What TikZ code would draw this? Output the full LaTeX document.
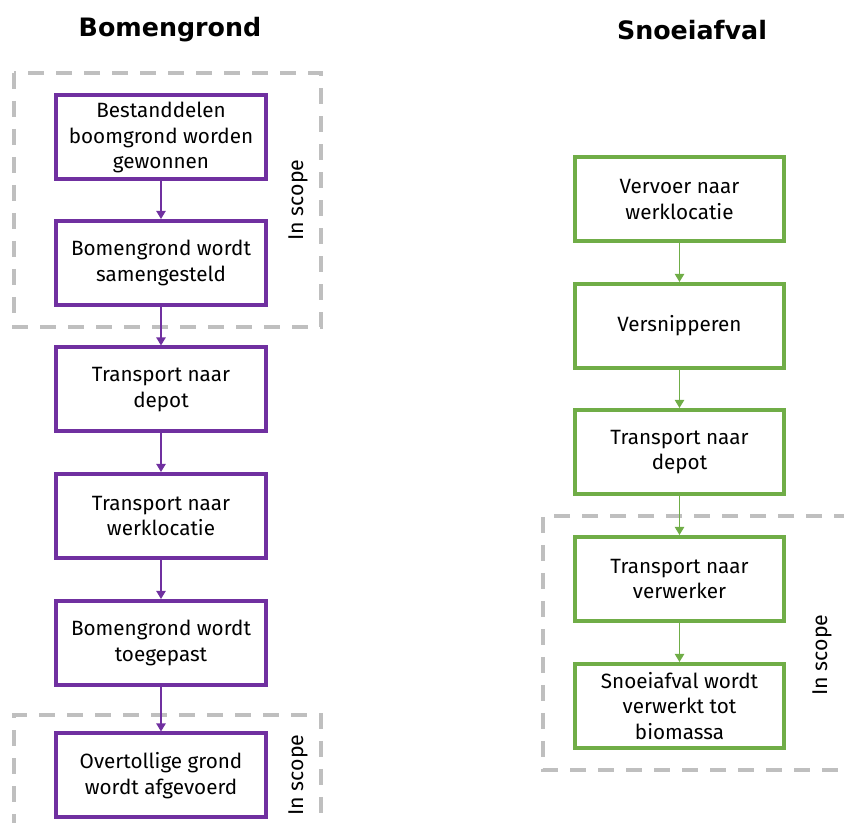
\documentclass[tikz,border=0pt]{standalone}
\usepackage{fontspec}
\setmainfont{Fira Sans}
\newfontfamily\titelfont{DejaVu Sans}
\usetikzlibrary{arrows.meta}
\definecolor{paars}{HTML}{7030A0}
\definecolor{groen}{HTML}{70AD47}
\definecolor{grijs}{HTML}{BFBFBF}
\tikzset{
  stap/.style={draw=#1, line width=3pt, fill=white, minimum width=157pt,
    minimum height=63pt, inner sep=0pt, align=center,
    font=\fontsize{15.5}{19}\selectfont},
  pijl/.style={draw=#1, line width=0.8pt, -{Triangle[length=6pt,width=7pt]}},
  kader/.style={draw=grijs, line width=2.3pt, dash pattern=on 12pt off 9pt},
  inscope/.style={rotate=90, font=\fontsize{16}{19}\selectfont},
  titel/.style={font=\titelfont\bfseries\fontsize{19}{23}\selectfont}
}
\newcommand*{\Stappen}[3]{% #1 = x, #2 = colour, #3 = list of name/y/text
  \foreach \naam/\y/\tekst in {#3} {
    \node [stap=#2] (\naam) at (#1,\y) {\tekst};
  }%
}

\begin{document}
\begin{tikzpicture}[x=0.75pt, y=-0.75pt]
    \useasboundingbox (0,0) rectangle (844,823);

    % scope frames
    \draw[kader] (14,73) rectangle (321,327);
    \draw[kader] (14,830) -- (14,715) -- (321,715) -- (321,830);
    \draw[kader] (850,516) -- (543,516) -- (543,770) -- (850,770);

    \node[titel] (titelbg) at (170,30) {Bomengrond};
    \node[titel] (titelsa) at (692,30) {Snoeiafval};

    \Stappen{161}{paars}{bg1/137.5/{Bestanddelen\\boomgrond worden\\gewonnen},
      bg2/263/{Bomengrond wordt\\samengesteld},
      bg3/389.5/{Transport naar\\depot},
      bg4/516/{Transport naar\\werklocatie},
      bg5/643/{Bomengrond wordt\\toegepast},
      bg6/775.5/{Overtollige grond\\wordt afgevoerd}}
    \Stappen{679.5}{groen}{sa1/199.5/{Vervoer naar\\werklocatie},
      sa2/326/{Versnipperen},
      sa3/452/{Transport naar\\depot},
      sa4/579/{Transport naar\\verwerker},
      sa5/706/{Snoeiafval wordt\\verwerkt tot\\biomassa}}

    \foreach \a/\b in {bg1/bg2,bg2/bg3,bg3/bg4,bg4/bg5,bg5/bg6}
      \draw[pijl=paars] (\a) -- (\b);
    \foreach \a/\b in {sa1/sa2,sa2/sa3,sa3/sa4,sa4/sa5}
      \draw[pijl=groen] (\a) -- (\b);

    \node[inscope] (scope1) at (298,200) {In scope};
    \node[inscope] (scope2) at (298,775) {In scope};
    \node[inscope] (scope3) at (822,655) {In scope};
\end{tikzpicture}
\end{document}
